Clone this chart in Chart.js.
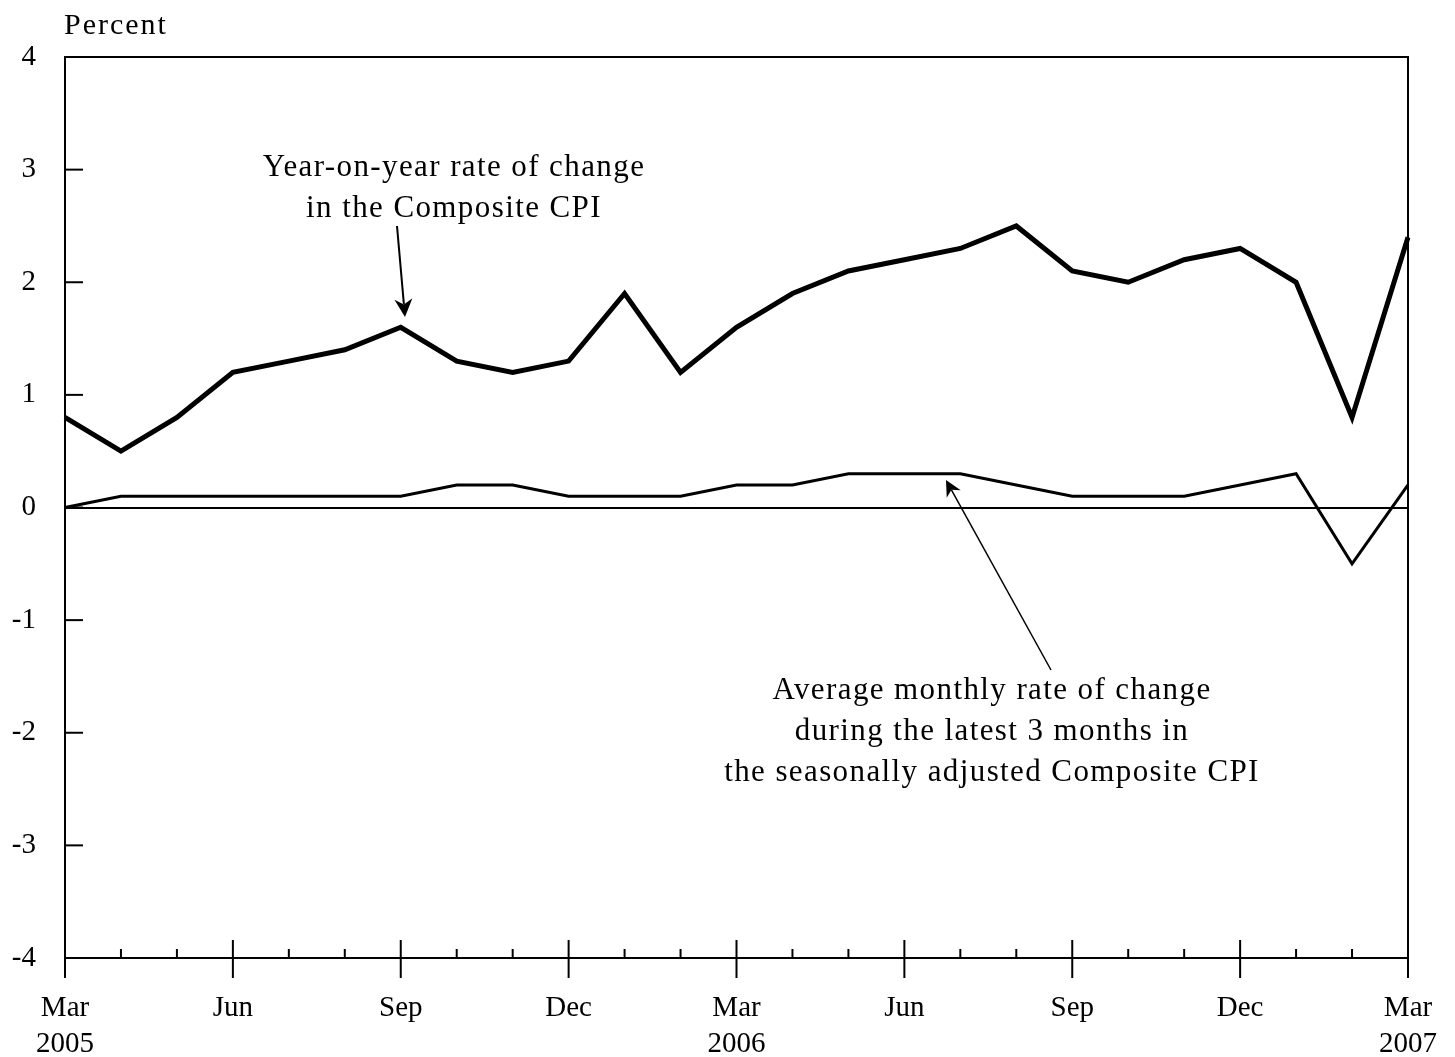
<!DOCTYPE html>
<html>
<head>
<meta charset="utf-8">
<script src="https://cdn.jsdelivr.net/npm/chart.js@4"></script>
<style>
html,body{margin:0;padding:0;background:#fff;}
canvas{display:block;}
</style>
</head>
<body>
<canvas id="c" width="1455" height="1057" style="width:1455px;height:1057px"></canvas>
<script>
// ---- data ----
const months = ['Mar 2005','Apr 2005','May 2005','Jun 2005','Jul 2005','Aug 2005','Sep 2005','Oct 2005','Nov 2005','Dec 2005',
  'Jan 2006','Feb 2006','Mar 2006','Apr 2006','May 2006','Jun 2006','Jul 2006','Aug 2006','Sep 2006','Oct 2006','Nov 2006','Dec 2006',
  'Jan 2007','Feb 2007','Mar 2007'];
const yoyChange = [0.8,0.5,0.8,1.2,1.3,1.4,1.6,1.3,1.2,1.3,1.9,1.2,1.6,1.9,2.1,2.2,2.3,2.5,2.1,2.0,2.2,2.3,2.0,0.8,2.4];
const avgMonthlyChange = [0.0,0.1,0.1,0.1,0.1,0.1,0.1,0.2,0.2,0.1,0.1,0.1,0.2,0.2,0.3,0.3,0.3,0.2,0.1,0.1,0.1,0.2,0.3,-0.5,0.2];
const xTickLabels = [['Mar','2005'],'','','Jun','','','Sep','','','Dec','','',['Mar','2006'],'','','Jun','','','Sep','','','Dec','','',['Mar','2007']];
const yTicks = [-4,-3,-2,-1,0,1,2,3,4];
const annotationYoY = ['Year-on-year rate of change','in the Composite CPI'];
const annotationAvg = ['Average monthly rate of change','during the latest 3 months in','the seasonally adjusted Composite CPI'];

const FONT = '"Liberation Serif", "Times New Roman", serif';

function arrow(ctx, x1, y1, x2, y2, lw, head) {
  ctx.save();
  ctx.strokeStyle = '#000';
  ctx.fillStyle = '#000';
  ctx.lineWidth = lw;
  const ang = Math.atan2(y2 - y1, x2 - x1);
  const bx = x2 - Math.cos(ang) * head * 0.7;
  const by = y2 - Math.sin(ang) * head * 0.7;
  ctx.beginPath();
  ctx.moveTo(x1, y1);
  ctx.lineTo(bx, by);
  ctx.stroke();
  const w = head * 0.5;
  ctx.beginPath();
  ctx.moveTo(x2, y2);
  ctx.lineTo(x2 - Math.cos(ang) * head + Math.cos(ang + Math.PI / 2) * w, y2 - Math.sin(ang) * head + Math.sin(ang + Math.PI / 2) * w);
  ctx.lineTo(bx, by);
  ctx.lineTo(x2 - Math.cos(ang) * head - Math.cos(ang + Math.PI / 2) * w, y2 - Math.sin(ang) * head - Math.sin(ang + Math.PI / 2) * w);
  ctx.closePath();
  ctx.fill();
  ctx.restore();
}

const decor = {
  id: 'decor',
  afterDraw(chart) {
    const ctx = chart.ctx;
    const a = chart.chartArea;
    const xs = chart.scales.x, ys = chart.scales.y;
    ctx.save();
    ctx.strokeStyle = '#000';
    ctx.lineWidth = 2;
    ctx.strokeRect(a.left, a.top, a.right - a.left, a.bottom - a.top);
    // y ticks inward
    yTicks.forEach(v => {
      const y = ys.getPixelForValue(v);
      ctx.beginPath();
      ctx.moveTo(a.left, y);
      ctx.lineTo(a.left + 18, y);
      ctx.stroke();
    });
    // x ticks
    months.forEach((m, i) => {
      const x = xs.getPixelForValue(i);
      ctx.beginPath();
      if (i % 3 === 0) {
        ctx.moveTo(x, a.bottom - 18);
        ctx.lineTo(x, a.bottom + 20);
      } else {
        ctx.moveTo(x, a.bottom - 9);
        ctx.lineTo(x, a.bottom);
      }
      ctx.stroke();
    });
    // texts
    ctx.fillStyle = '#000';
    ctx.font = '30px ' + FONT;
    ctx.textBaseline = 'middle';
    ctx.textAlign = 'left';
    ctx.letterSpacing = '2px';
    ctx.fillText('Percent', 64, 26);
    ctx.font = '31px ' + FONT;
    ctx.textAlign = 'center';
    ctx.letterSpacing = '1.4px';
    annotationYoY.forEach((t, i) => ctx.fillText(t, 454, 168 + i * 41));
    annotationAvg.forEach((t, i) => ctx.fillText(t, 992, 691 + i * 41));
    ctx.letterSpacing = '0px';
    ctx.restore();
    arrow(ctx, 397, 226, 405, 317, 2, 18);
    arrow(ctx, 1051, 670, 946, 480, 1.5, 16);
  }
};

new Chart(document.getElementById('c'), {
  type: 'line',
  data: {
    labels: months,
    datasets: [
      { label: 'Year-on-year', data: yoyChange, borderColor: '#000', borderWidth: 5, pointRadius: 0, tension: 0, fill: false, borderJoinStyle: 'miter' },
      { label: 'Average monthly', data: avgMonthlyChange, borderColor: '#000', borderWidth: 3, pointRadius: 0, tension: 0, fill: false }
    ]
  },
  options: {
    responsive: false,
    animation: false,
    devicePixelRatio: 1,
    layout: { padding: { top: 57, right: 47, bottom: 0, left: 0 } },
    plugins: { legend: { display: false }, tooltip: { enabled: false }, title: { display: false } },
    scales: {
      x: {
        type: 'category',
        offset: false,
        grid: { display: false, drawTicks: false },
        border: { display: false },
        ticks: {
          autoSkip: false, maxRotation: 0, minRotation: 0, padding: 32, color: '#000',
          font: { family: FONT, size: 29, lineHeight: 1.25 },
          callback: (v, i) => xTickLabels[i]
        },
        afterFit: s => { s.height = 99; s.paddingLeft = 0; s.paddingRight = 0; }
      },
      y: {
        min: -4, max: 4,
        grid: { color: c => (c.tick && c.tick.value === 0) ? '#000' : 'rgba(0,0,0,0)', lineWidth: 2, drawTicks: false },
        border: { display: false },
        ticks: { stepSize: 1, padding: 29, color: '#000', font: { family: FONT, size: 29 } },
        afterFit: s => { s.width = 65; }
      }
    }
  },
  plugins: [decor]
});
</script>
</body>
</html>
